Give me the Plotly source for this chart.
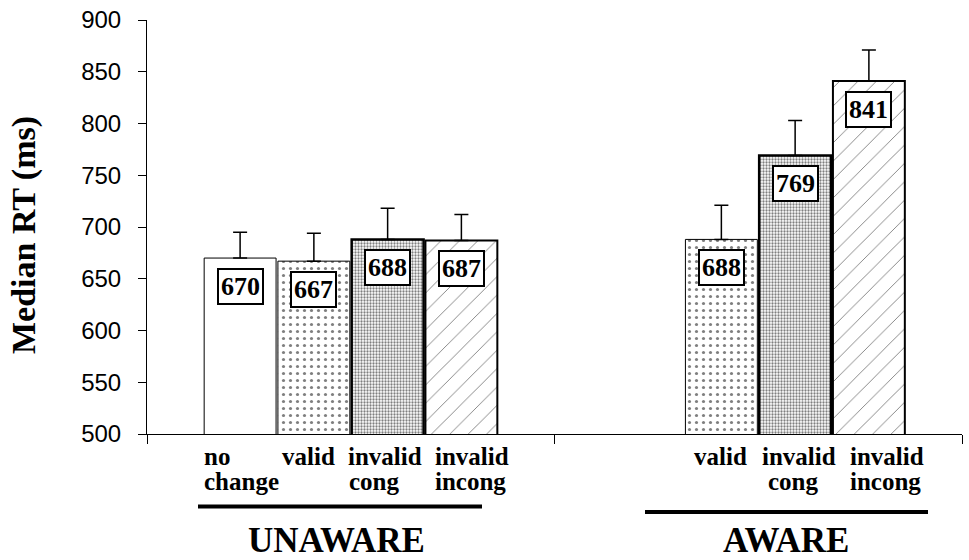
import plotly.graph_objects as go

# ---------------- data ----------------
groups = ["UNAWARE", "AWARE"]
series_names = ["no change", "valid", "invalid cong", "invalid incong"]
no_change = [670, None]
valid = [667, 688]
invalid_cong = [688, 769]
invalid_incong = [687, 841]
no_change_err = [25, 0]
valid_err = [27, 33]
invalid_cong_err = [30, 34]
invalid_incong_err = [25, 30]
y_ticks = [500, 550, 600, 650, 700, 750, 800, 850, 900]

# category labels under bars: (text, pixel x, anchor, line)
bar_labels = [
    ("no", 201.7, "left", 1), ("change", 201.7, "left", 2),
    ("valid", 337, "right", 1),
    ("invalid", 345.7, "left", 1), ("cong", 347, "left", 2),
    ("invalid", 433, "left", 1), ("incong", 433, "left", 2),
    ("valid", 749, "right", 1),
    ("invalid", 760, "left", 1), ("cong", 766, "left", 2),
    ("invalid", 847.7, "left", 1), ("incong", 848, "left", 2),
]
group_labels = [("UNAWARE", 336.5), ("AWARE", 786)]

# ---------------- layout constants ----------------
W, H = 969, 560
ML, MR, MT, MB = 147, 7, 20, 126
PLOT_W = W - ML - MR
PLOT_H = H - MT - MB
CAT_W = PLOT_W / len(groups)
BARGAP = 0.276
SLOT = (1 - BARGAP) / 4

def px2cat(p):
    return (p - ML) / CAT_W - 0.5

SERIF = "Liberation Serif"
SANS = "Liberation Sans"

values = [no_change, valid, invalid_cong, invalid_incong]
errors = [no_change_err, valid_err, invalid_cong_err, invalid_incong_err]
styles = [
    dict(color="white", line=dict(color="black", width=1)),
    dict(color="white", line=dict(color="black", width=1),
         pattern=dict(shape=".", fgcolor="black", bgcolor="white", size=7, solidity=0.16)),
    dict(color="white", line=dict(color="black", width=2.5),
         pattern=dict(shape=".", fgcolor="black", bgcolor="white", size=3, solidity=0.45)),
    dict(color="white", line=dict(color="black", width=2),
         pattern=dict(shape="/", fgcolor="black", bgcolor="white", size=13, solidity=0.07)),
]

fig = go.Figure()
for name, vals, errs, st in zip(series_names, values, errors, styles):
    fig.add_trace(go.Bar(
        x=groups, y=vals, name=name, marker=st,
        error_y=dict(type="data", array=errs, arrayminus=[0] * len(errs),
                     symmetric=False, color="black", thickness=1.5, width=7),
    ))

annotations = []
# value boxes
for si, vals in enumerate(values):
    for gi, v in enumerate(vals):
        if v is None:
            continue
        annotations.append(dict(
            x=gi + (si - 1.5) * SLOT, y=v, xref="x", yref="y",
            text=f"<b>{v}</b>", showarrow=False, yshift=-28,
            font=dict(family=SERIF, size=26, color="black"),
            bgcolor="white", bordercolor="black", borderwidth=2, borderpad=2,
        ))

# category labels
for text, px, anchor, line in bar_labels:
    annotations.append(dict(
        x=px2cat(px), y=0, xref="x", yref="paper", xanchor=anchor, yanchor="middle",
        yshift=-22 if line == 1 else -47, text=f"<b>{text}</b>", showarrow=False,
        font=dict(family=SERIF, size=25, color="black"),
    ))

for text, px in group_labels:
    annotations.append(dict(
        x=px2cat(px), y=0, xref="x", yref="paper", xanchor="center", yanchor="middle",
        yshift=-106, text=f"<b>{text}</b>", showarrow=False,
        font=dict(family=SERIF, size=35, color="black"),
    ))

# y-axis title
annotations.append(dict(
    x=0, y=0.5, xref="paper", yref="paper", xshift=24 - ML, yshift=-8,
    xanchor="center", yanchor="middle", textangle=-90, showarrow=False,
    text="<b>Median RT (ms)</b>", font=dict(family=SERIF, size=34, color="black"),
))

shapes = [
    dict(type="line", xref="x", yref="paper", x0=px2cat(198), x1=px2cat(482),
         y0=(433.5 - 506) / PLOT_H, y1=(433.5 - 506) / PLOT_H,
         line=dict(color="black", width=4)),
    dict(type="line", xref="x", yref="paper", x0=px2cat(645), x1=px2cat(928),
         y0=(433.5 - 511.5) / PLOT_H, y1=(433.5 - 511.5) / PLOT_H,
         line=dict(color="black", width=4)),
]

fig.update_layout(
    width=W, height=H,
    margin=dict(l=ML, r=MR, t=MT, b=MB),
    paper_bgcolor="white", plot_bgcolor="white",
    barmode="group", bargap=BARGAP, bargroupgap=0.025,
    showlegend=False,
    annotations=annotations, shapes=shapes,
    xaxis=dict(showline=True, linecolor="black", linewidth=1, showgrid=False,
               ticks="outside", ticklen=9, tickcolor="black", tickwidth=1,
               tickson="boundaries", showticklabels=False, range=[-0.5, 1.5]),
    yaxis=dict(range=[500, 900], tickvals=y_ticks, showline=True, linecolor="black",
               linewidth=1, showgrid=False, ticks="outside", ticklen=8,
               tickcolor="black", tickwidth=1, zeroline=False,
               tickfont=dict(family=SANS, size=24, color="black"),
               ticklabelstandoff=12),
)

fig.write_html("out.html", config={"displayModeBar": False},
               post_script="document.body.style.margin='0';")
